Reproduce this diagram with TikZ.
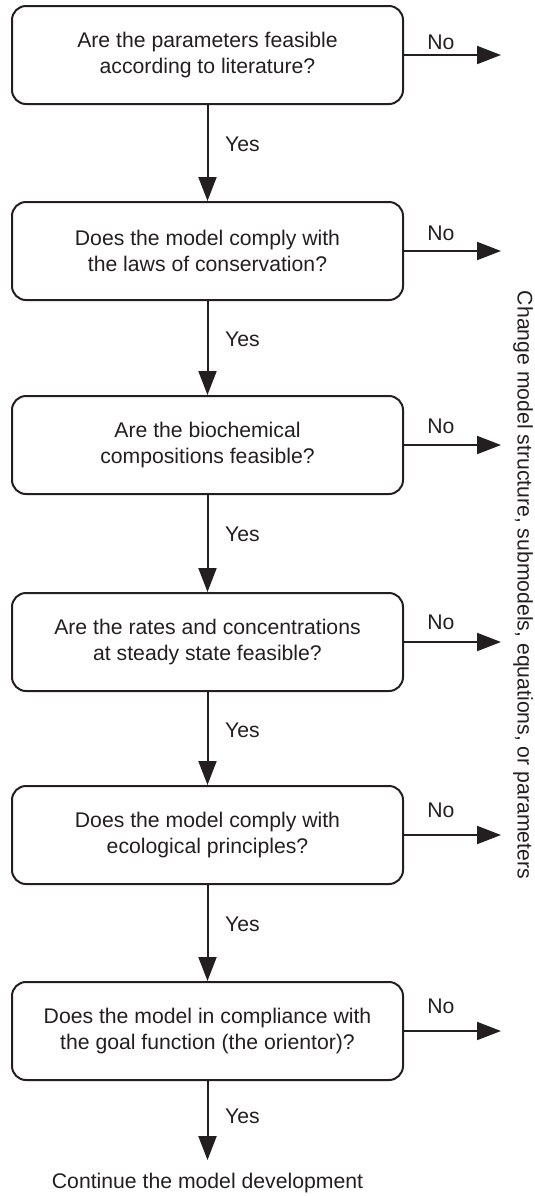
\documentclass[tikz,border=0pt]{standalone}
\usepackage{fontspec}
\setmainfont{Liberation Sans}
\usetikzlibrary{arrows.meta,positioning}
\definecolor{fcblack}{RGB}{35,31,32}

\begin{document}
\begin{tikzpicture}[x=0.5pt,y=-0.5pt,
  qbox/.style={draw=fcblack, line width=1pt, rounded corners=7pt, minimum width=195.5pt,
    minimum height=49pt, align=center, inner sep=0pt, text=fcblack, font=\fontsize{10.6}{13}\selectfont},
  flow/.style={draw=fcblack, line width=1pt, -{Triangle[length=12pt,width=9pt]}},
  lbl/.style={text=fcblack, font=\fontsize{10.6}{13}\selectfont}]
\useasboundingbox (0,0) rectangle (535,1196);

\node[qbox] (q1) at (207.5,55) {Are the parameters feasible\\according to literature?};
\node[qbox] (q2) at (207.5,251) {Does the model comply with\\the laws of conservation?};
\node[qbox] (q3) at (207.5,445) {Are the biochemical\\compositions feasible?};
\node[qbox] (q4) at (207.5,642) {Are the rates and concentrations\\at steady state feasible?};
\node[qbox] (q5) at (207.5,835) {Does the model comply with\\ecological principles?};
\node[qbox] (q6) at (207.5,1031) {Does the model in compliance with\\the goal function (the orientor)?};
\node[lbl] (cont) at (207.5,1183) {Continue the model development};
\node[lbl, rotate=-90] (chg) at (523,585) {Change model structure, submodels, equations, or parameters};

% yes branch
\foreach \i/\j in {1/2,2/3,3/4,4/5,5/6}
  \draw[flow] (q\i) -- node[lbl, pos=0.41, right=5pt] {Yes} (q\j);
\draw[flow, shorten >=3pt] (q6) -- node[lbl, pos=0.42, right=5pt] {Yes} (cont);

% no branch
\foreach \i/\d in {1/-1,2/1.5,3/2,4/2.5,5/5,6/5} {
  \coordinate (n\i) at ([xshift=48.5pt]q\i.east);
  \draw[flow] (q\i.east) -- node[lbl, pos=0.38, above=\d pt] {No} (n\i);
}
\end{tikzpicture}
\end{document}
